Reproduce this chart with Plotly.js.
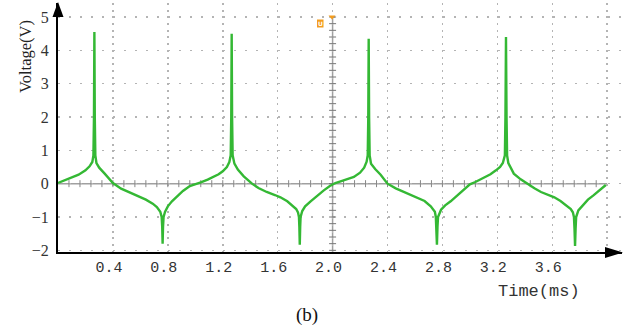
<!DOCTYPE html>
<html>
<head>
<meta charset="utf-8">
<script src="https://cdn.plot.ly/plotly-3.0.1.min.js"></script>
<style>html,body{margin:0;padding:0;background:#fff;}#chart{width:630px;height:334px;}</style>
</head>
<body>
<div id="chart"></div>
<script>
// ---- data ----
var timeMs = [
  0, 0.05, 0.1, 0.15, 0.2, 0.23, 0.25, 0.258, 0.262, 0.265, 0.268, 0.272, 0.28, 0.3, 0.34, 0.40, 0.46, 0.52, 0.58, 0.64, 0.69, 0.72, 0.745, 0.755, 0.759, 0.762, 0.765, 0.769, 0.78, 0.80, 0.83, 0.87, 0.91, 0.96,
  1.00, 1.04, 1.09, 1.13, 1.17, 1.2, 1.23, 1.248, 1.258, 1.262, 1.265, 1.268, 1.272, 1.285, 1.31, 1.353, 1.413, 1.46, 1.52, 1.58, 1.62, 1.67, 1.705, 1.735, 1.748, 1.755, 1.758, 1.761, 1.764, 1.767, 1.779, 1.80, 1.84, 1.89, 1.936, 1.98,
  2.02, 2.08, 2.155, 2.2, 2.23, 2.248, 2.256, 2.260, 2.263, 2.266, 2.270, 2.28, 2.31, 2.35, 2.40, 2.46, 2.52, 2.57, 2.62, 2.67, 2.715, 2.745, 2.752, 2.756, 2.76, 2.764, 2.768, 2.79, 2.82, 2.86, 2.91, 2.96, 3.0, 3.04,
  3.10, 3.15, 3.19, 3.22, 3.24, 3.255, 3.259, 3.263, 3.267, 3.271, 3.28, 3.30, 3.32, 3.37, 3.42, 3.47, 3.518, 3.57, 3.615, 3.66, 3.70, 3.735, 3.75, 3.758, 3.762, 3.766, 3.77, 3.774, 3.79, 3.82, 3.86, 3.90, 3.93, 3.96, 3.99
];
var voltage = [
  0.02, 0.1, 0.17, 0.27, 0.4, 0.52, 0.65, 0.85, 2.0, 4.55, 2.0, 0.85, 0.62, 0.48, 0.3, 0.02, -0.15, -0.26, -0.35, -0.48, -0.6, -0.7, -0.84, -1.0, -1.3, -1.8, -1.3, -1.0, -0.84, -0.68, -0.53, -0.36, -0.22, -0.07,
  -0.02, 0.04, 0.12, 0.2, 0.28, 0.37, 0.5, 0.65, 0.85, 2.0, 4.5, 2.0, 0.85, 0.6, 0.42, 0.22, 0.0, -0.13, -0.25, -0.34, -0.41, -0.53, -0.64, -0.76, -0.86, -1.0, -1.3, -1.83, -1.3, -1.0, -0.82, -0.68, -0.53, -0.35, -0.2, -0.07,
  0.02, 0.1, 0.2, 0.33, 0.48, 0.66, 0.85, 2.0, 4.35, 2.0, 0.85, 0.6, 0.44, 0.27, 0.0, -0.14, -0.25, -0.33, -0.41, -0.52, -0.68, -0.84, -1.0, -1.3, -1.83, -1.3, -1.0, -0.78, -0.65, -0.53, -0.35, -0.17, -0.02, 0.05,
  0.17, 0.28, 0.4, 0.5, 0.62, 0.85, 2.0, 4.4, 2.0, 0.85, 0.62, 0.45, 0.3, 0.13, -0.01, -0.14, -0.25, -0.33, -0.41, -0.52, -0.64, -0.76, -0.86, -1.0, -1.35, -1.87, -1.35, -1.0, -0.8, -0.65, -0.48, -0.35, -0.25, -0.14, -0.04
];
var xGridVals = [0.4, 0.8, 1.2, 1.6, 2.0, 2.4, 2.8, 3.2, 3.6, 4.0];
var xTickText = ['0.4', '0.8', '1.2', '1.6', '2.0', '2.4', '2.8', '3.2', '3.6', ''];
var yTickVals = [-2, -1, 0, 1, 2, 3, 4, 5];

// ---- layout geometry ----
var W = 630, H = 334, ML = 58, MR = 8, MT = 3, MB = 82;
var PW = W - ML - MR, PH = H - MT - MB;
function px(x) { return (x - ML) / PW; }
function py(y) { return (H - MB - y) / PH; }

// small tick marks on the centre axes (decoration)
var hTickX = [], hTickY = [], vTickX = [], vTickY = [];
for (var k = 1; k <= 49; k++) { hTickX.push(+(k * 0.08).toFixed(2)); hTickY.push(0); }
for (var j = -10; j <= 25; j++) { vTickX.push(2.0); vTickY.push(+(j * 0.2).toFixed(1)); }

var traces = [
  {x: hTickX, y: hTickY, mode: 'markers', type: 'scatter', hoverinfo: 'skip',
   marker: {symbol: 'line-ns-open', size: 5, color: '#888', line: {color: '#888', width: 1}}},
  {x: vTickX, y: vTickY, mode: 'markers', type: 'scatter', hoverinfo: 'skip',
   marker: {symbol: 'line-ew-open', size: 5, color: '#777', line: {color: '#777', width: 1}}},
  {x: timeMs, y: voltage, mode: 'lines', type: 'scatter',
   line: {color: '#34b834', width: 2.4}}
];

var layout = {
  width: W, height: H,
  margin: {l: ML, r: MR, t: MT, b: MB, pad: 0},
  paper_bgcolor: '#fff', plot_bgcolor: '#fff',
  showlegend: false,
  xaxis: {
    range: [0, 4.108], tickvals: xGridVals, ticktext: xTickText,
    showgrid: true, gridcolor: '#b4b4b4', gridwidth: 1.5, griddash: '2px,4.7px',
    zeroline: false, showline: true, linecolor: '#000', linewidth: 2,
    ticks: '', ticklabelshift: -4,
    tickfont: {family: 'Liberation Mono, monospace', size: 15, color: '#333'}
  },
  yaxis: {
    range: [-2.05, 5.42], tickvals: yTickVals,
    showgrid: true, gridcolor: '#b4b4b4', gridwidth: 1.5, griddash: '2px,9px',
    zeroline: false, showline: true, linecolor: '#000', linewidth: 2,
    ticks: '', ticklabelstandoff: 4,
    tickfont: {family: 'Liberation Serif, serif', size: 16, color: '#333'}
  },
  shapes: [
    {type: 'line', xref: 'x', yref: 'y', x0: 0, x1: 4.0, y0: 0, y1: 0, line: {color: '#a0a0a0', width: 1.5}, layer: 'below'},
    {type: 'line', xref: 'x', yref: 'y', x0: 2.0, x1: 2.0, y0: -2.05, y1: 5.0, line: {color: '#a0a0a0', width: 1.5}, layer: 'below'},
    {type: 'path', xref: 'paper', yref: 'paper', fillcolor: '#000', line: {width: 0},
     path: 'M' + px(52.5) + ',' + py(17) + ' L' + px(58) + ',' + py(2) + ' L' + px(63.5) + ',' + py(17) + ' Z'},
    {type: 'path', xref: 'paper', yref: 'paper', fillcolor: '#000', line: {width: 0},
     path: 'M' + px(605) + ',' + py(247) + ' L' + px(623) + ',' + py(252.5) + ' L' + px(605) + ',' + py(258) + ' Z'},
    {type: 'path', xref: 'paper', yref: 'paper', fillcolor: '#f39c1e', line: {width: 0},
     path: 'M' + px(328.5) + ',' + py(15.5) + ' L' + px(335.5) + ',' + py(15.5) + ' L' + px(332) + ',' + py(19.5) + ' Z'},
    {type: 'rect', xref: 'paper', yref: 'paper', fillcolor: '#f39c1e', line: {width: 0},
     x0: px(317), x1: px(323.5), y0: py(27.5), y1: py(19.5)}
  ],
  annotations: [
    {xref: 'paper', yref: 'paper', x: px(25), y: py(57), text: 'Voltage(V)', textangle: -90, showarrow: false,
     xanchor: 'center', yanchor: 'middle', font: {family: 'Liberation Serif, serif', size: 16.5, color: '#222'}},
    {xref: 'paper', yref: 'paper', x: px(539), y: py(291), text: 'Time(ms)', showarrow: false,
     xanchor: 'center', yanchor: 'middle', font: {family: 'Liberation Mono, monospace', size: 17, color: '#333'}},
    {xref: 'paper', yref: 'paper', x: px(307), y: py(315), text: '(b)', showarrow: false,
     xanchor: 'center', yanchor: 'middle', font: {family: 'Liberation Serif, serif', size: 19, color: '#111'}},
    {xref: 'paper', yref: 'paper', x: px(320.3), y: py(23.5), text: '<b>U</b>', showarrow: false,
     xanchor: 'center', yanchor: 'middle', font: {family: 'DejaVu Sans, sans-serif', size: 6, color: '#fff'}}
  ]
};

Plotly.newPlot('chart', traces, layout, {staticPlot: true, displayModeBar: false});
</script>
</body>
</html>
